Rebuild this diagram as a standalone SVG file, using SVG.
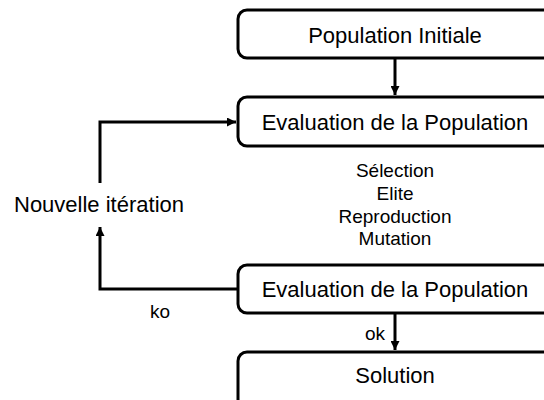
<svg xmlns="http://www.w3.org/2000/svg" width="544" height="400" viewBox="0 0 544 400">
<defs>
<style>
.box{fill:#fff;stroke:#000;stroke-width:3}
.t{font-family:"Liberation Sans",Arial,sans-serif;font-size:22px;fill:#000;text-anchor:middle}
.s{font-family:"Liberation Sans",Arial,sans-serif;font-size:19px;fill:#000;text-anchor:middle}
.c{fill:none;stroke:#000;stroke-width:3}
</style>
<marker id="ah" viewBox="0 0 10 10" refX="10" refY="5" markerWidth="3" markerHeight="3" orient="auto" markerUnits="strokeWidth">
<path d="M0,0 L10,5 L0,10 z" fill="#000"/>
</marker>
</defs>
<rect width="544" height="400" fill="#fff"/>
<g id="connectors">
<path class="c" d="M395,59 L395,95" marker-end="url(#ah)"/>
<path class="c" d="M238,289 L100,289 L100,227" marker-end="url(#ah)"/>
<path class="c" d="M100,183 L100,122 L236,122" marker-end="url(#ah)"/>
<path class="c" d="M395,313 L395,350" marker-end="url(#ah)"/>
<text class="s" x="160" y="318">ko</text>
<text class="s" x="375" y="340">ok</text>
</g>
<g id="n1">
<rect class="box" x="238" y="10" width="316" height="48" rx="9"/>
<text class="t" x="395" y="43">Population Initiale</text>
</g>
<g id="n2">
<rect class="box" x="238" y="97" width="316" height="49" rx="9"/>
<text class="t" x="395" y="130">Evaluation de la Population</text>
</g>
<g id="ops">
<text class="s" x="395" y="177">Sélection</text>
<text class="s" x="395" y="200">Elite</text>
<text class="s" x="395" y="223">Reproduction</text>
<text class="s" x="395" y="245">Mutation</text>
</g>
<g id="iter">
<text class="t" x="99" y="212">Nouvelle itération</text>
</g>
<g id="n3">
<rect class="box" x="238" y="265" width="316" height="48" rx="9"/>
<text class="t" x="395" y="297">Evaluation de la Population</text>
</g>
<g id="n4">
<rect class="box" x="238" y="352" width="316" height="56" rx="9"/>
<text class="t" x="395" y="383">Solution</text>
</g>
</svg>
